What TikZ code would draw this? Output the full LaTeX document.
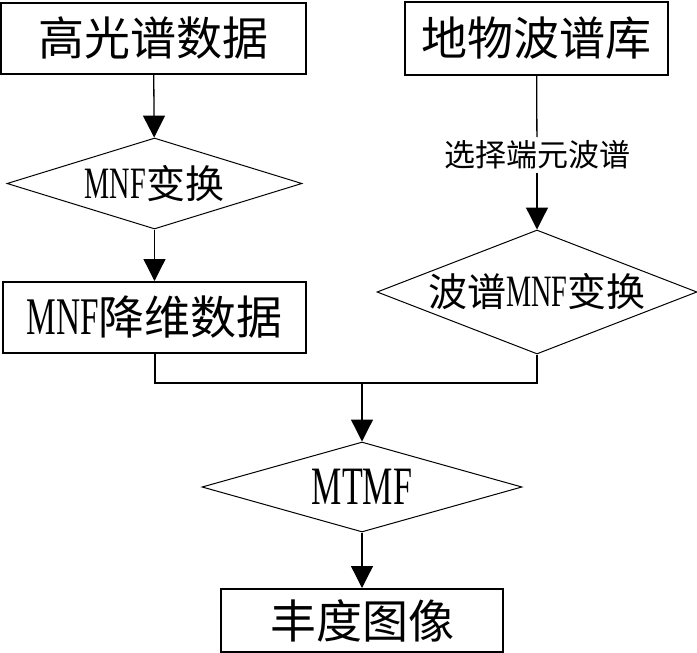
\documentclass[tikz,border=0pt]{standalone}
\usepackage{fontspec}
\setmainfont{Noto Sans CJK SC}
\newfontfamily\lat[FakeStretch=0.63,Scale=1.15]{Liberation Serif}
\usetikzlibrary{shapes.geometric,arrows.meta}
\newcommand{\mnf}{{\lat MNF}}

\begin{document}
\begin{tikzpicture}[x=1pt,y=-1pt,
   box/.style={draw,line width=2pt,inner sep=0pt,font=\fontsize{46}{50}\selectfont},
   dec/.style={draw,diamond,line width=1pt,inner sep=0pt,font=\fontsize{39}{44}\selectfont},
   flow/.style={line width=1.3pt,-{Triangle[width=22pt,length=22pt]}},
   link/.style={line width=1.3pt}]
   \useasboundingbox (0,0) rectangle (697,653);
   \node[box,minimum width=305pt,minimum height=71pt] (hsi)  at (153.5,38.5) {高光谱数据};
   \node[box,minimum width=263pt,minimum height=73pt] (lib)  at (536.5,38.5) {地物波谱库};
   \node[dec,aspect=3.24,minimum width=295pt,minimum height=91pt] (mnf)  at (154.5,183.5) {\mnf 变换};
   \node[font=\fontsize{31}{35}\selectfont] (sel) at (537,155) {选择端元波谱};
   \node[dec,aspect=2.58,minimum width=320pt,minimum height=124pt] (smnf) at (537,292) {波谱\mnf 变换};
   \node[box,minimum width=303pt,minimum height=71pt] (red)  at (154.5,317.5) {\mnf 降维数据};
   \coordinate (join) at (362,383);
   \node[dec,aspect=3.56,minimum width=320pt,minimum height=90pt,font=\fontsize{47}{50}\selectfont] (mtmf) at (362,487) {{\lat MTMF}};
   \node[box,minimum width=282pt,minimum height=63pt] (abd)  at (362,620.5) {丰度图像};
   \draw[flow] (hsi) -- (mnf);
   \draw[flow] (mnf) -- (red);
   \draw[link] (lib) -- (sel);
   \draw[flow] (sel) -- (smnf);
   \draw[link,line width=2pt] (red.south) |- (join) -| (smnf.south);
   \draw[flow] (join) -- (mtmf);
   \draw[flow] (mtmf) -- (abd);
\end{tikzpicture}
\end{document}
